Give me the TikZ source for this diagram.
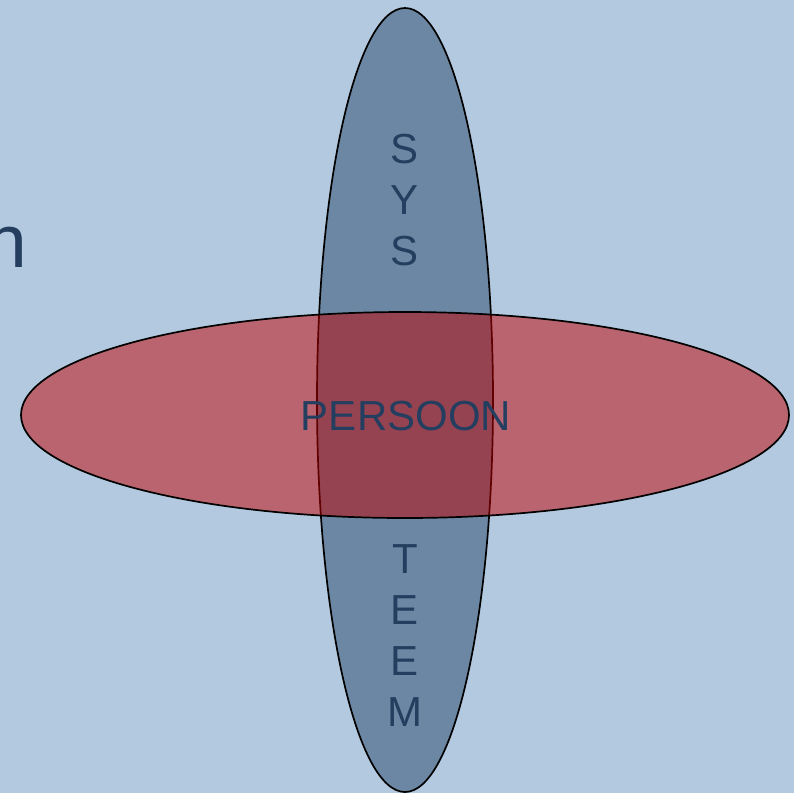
\documentclass[tikz,border=0pt]{standalone}
\usepackage{fontspec}
\setmainfont{Liberation Sans}
\definecolor{bgblue}{RGB}{179,201,223}
\definecolor{ellblue}{RGB}{108,135,163}
\definecolor{ellred}{RGB}{192,0,0}
\definecolor{txtblue}{RGB}{36,62,96}
\tikzset{
  lbl/.style={text=txtblue, inner sep=0pt, font=\fontsize{42}{51}\selectfont},
  vell/.style={draw=black, line width=1.7pt, fill=ellblue},
  hell/.style={draw=black, line width=1.7pt, fill=ellred, fill opacity=0.5},
}
\begin{document}
\begin{tikzpicture}[x=1pt,y=-1pt]
\useasboundingbox (0,0) rectangle (794,793);
\fill[bgblue] (0,0) rectangle (794,793);
\clip (0,0) rectangle (794,793);
\node[text=txtblue, inner sep=0pt, font=\fontsize{75}{90}\selectfont, anchor=base east] (title) at (27,267) {n};
\draw[vell] (405,400) ellipse [x radius=88, y radius=392];
\draw[hell] (405,415) ellipse [x radius=384, y radius=103];
\node[lbl, align=center, anchor=north] (sys) at (405,134) {S\\Y\\S};
\node[lbl, align=center, anchor=north] (teem) at (405,544) {T\\E\\E\\M};
\node[lbl, anchor=base] (persoon) at (406,430) {PERSOON};
\end{tikzpicture}
\end{document}
